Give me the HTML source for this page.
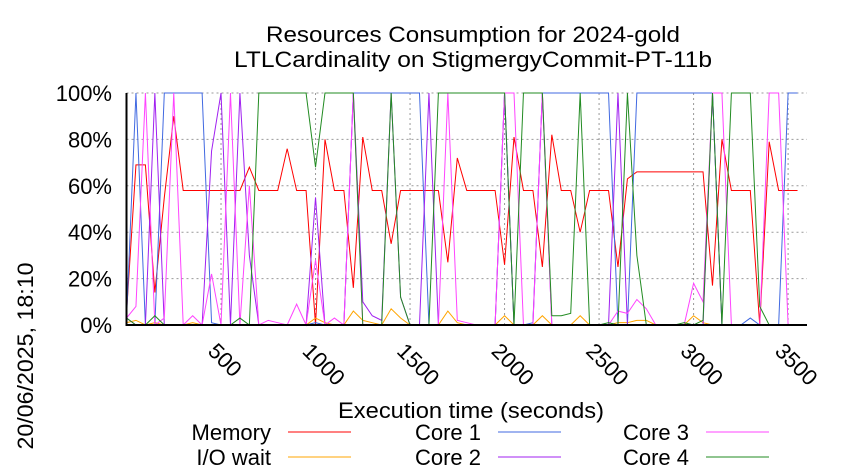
<!DOCTYPE html>
<html><head><meta charset="utf-8"><style>
body{margin:0;background:#fff}
svg{display:block;font-family:"Liberation Sans",sans-serif}
</style></head><body>
<svg id="chart" width="850" height="475" viewBox="0 0 850 475" xmlns="http://www.w3.org/2000/svg">
<text x="473" y="42" font-size="22" text-anchor="middle" textLength="414" lengthAdjust="spacingAndGlyphs">Resources Consumption for 2024-gold</text>
<text x="473" y="67" font-size="22" text-anchor="middle" textLength="478" lengthAdjust="spacingAndGlyphs">LTLCardinality on StigmergyCommit-PT-11b</text>
<g id="grid"></g>
<g id="series"></g>
<g id="axes"></g>
<text x="471" y="418" font-size="22" text-anchor="middle" textLength="266" lengthAdjust="spacingAndGlyphs">Execution time (seconds)</text>
<text transform="translate(33,356) rotate(-90)" font-size="22" text-anchor="middle" textLength="187" lengthAdjust="spacingAndGlyphs">20/06/2025, 18:10</text>
<g id="legend"></g>
</svg>
<script>
const times = Array.from({length:72},(_,i)=>i*50);
const memory = [5,69,69,14,55,90,58,58,58,58, 58,58,58,68,58,58,58,76,58,58, 0,80,58,58,16,81,58,58,35,58, 58,58,58,58,27,72,58,58,58,58, 26,81,58,58,25,82,58,58,40,58, 58,58,25,63,66,66,66,66,66,66, 66,66,17,80,58,58,58,0,79,58, 58,58];
const ioWait = [1,2,0,1,0,0,0,1,0,0, 0,0,0,0,0,0,0,0,0,0, 3,1,0,0,6,2,1,0,7,3, 0,0,0,0,6,1,0,0,0,0, 4,0,0,0,4,0,0,0,4,0, 0,0,1,1,2,2,0,0,0,0, 4,1,0,0,0,0,0,0,0,0, 0,0];
const core1 = [2,100,0,0,100,100,100,100,100,1, 0,0,0,0,0,0,0,0,0,0, 1,0,0,0,100,100,100,100,100,100, 100,100,0,0,0,0,0,0,0,0, 100,0,0,1,100,100,100,100,100,100, 100,100,0,0,100,100,100,100,100,100, 100,100,100,0,0,0,3,0,0,0, 100,100];
const core2 = [3,0,0,100,0,0,0,0,0,75, 100,0,100,30,0,0,0,0,0,0, 55,0,0,0,100,10,4,2,100,12, 0,0,100,0,0,0,0,0,0,0, 100,0,0,0,100,0,0,0,0,0, 0,0,100,0,0,0,0,0,0,0, 0,0,100,0,0,0,0,0,0,0, 0,0];
const core3 = [3,8,100,0,3,100,0,4,0,22, 0,100,0,60,0,2,1,0,9,0, 28,0,3,0,100,0,0,0,0,0, 0,0,0,0,100,2,1,0,0,0, 100,100,0,0,100,0,0,0,0,0, 0,0,6,5,11,7,0,0,0,0, 18,10,100,100,0,0,0,0,100,100, 0,0];
const core4 = [3,0,0,4,0,0,0,0,0,0, 0,0,3,0,100,100,100,100,100,100, 68,100,100,100,100,0,0,0,100,12, 0,0,0,100,100,100,100,100,100,100, 100,0,100,100,100,4,4,5,100,0, 0,1,0,100,30,0,0,0,0,1, 0,2,100,0,100,100,100,8,0,0, 0,0];
const xTicks = [500,1000,1500,2000,2500,3000,3500];
const yTicks = [0,20,40,60,80,100];

const NS="http://www.w3.org/2000/svg";
const X0=126.5, X1=807, Y0=325, Y1=93, XMAX=3600;
const xs=t=>X0+(t/XMAX)*(X1-X0);
const ys=v=>Y0-(v/100)*(Y0-Y1);
function mk(tag,attrs,parent){const e=document.createElementNS(NS,tag);for(const k in attrs)e.setAttribute(k,attrs[k]);parent.appendChild(e);return e;}
const grid=document.getElementById('grid'), axes=document.getElementById('axes'), ser=document.getElementById('series'), leg=document.getElementById('legend');
yTicks.forEach(v=>{
  const l=mk('line',{x1:X0,x2:X1,y1:ys(v),y2:ys(v),stroke:'#999','stroke-width':1,'stroke-dasharray':'2,3'},grid);
  
  
  const t=mk('text',{x:112,y:ys(v)+8,'font-size':22,'text-anchor':'end'},axes);
  
  
  t.textContent=v+'%';
});
xTicks.forEach(v=>{
  const l=mk('line',{x1:xs(v),x2:xs(v),y1:Y0,y2:Y1,stroke:'#999','stroke-width':1,'stroke-dasharray':'2,3'},grid);
  
  
  const t=mk('text',{transform:`translate(${xs(v)-3},341) rotate(45)`,'font-size':22,'text-anchor':'start','dominant-baseline':'hanging'},axes);
  
  
  t.textContent=v;
});
const ax=mk('path',{d:`M${X0},${Y1} V${Y0} H${X1}`,fill:'none',stroke:'#000','stroke-width':2},axes);


const seriesList=[
 ['memory',memory,'#ff0000'],['io-wait',ioWait,'#ffa500'],['core-1',core1,'#4169e1'],
 ['core-2',core2,'#a020f0'],['core-3',core3,'#ff44ff'],['core-4',core4,'#228b22']];
seriesList.forEach(([n,arr,c])=>{
  const p=mk('polyline',{points:arr.map((v,i)=>xs(times[i])+','+ys(v)).join(' '),fill:'none',stroke:c,'stroke-width':1},ser);
  
  
});
const legendItems=[['Memory','#ff0000',271,432],['I/O wait','#ffa500',271,457],['Core 1','#4169e1',481,432],['Core 2','#a020f0',481,457],['Core 3','#ff44ff',689,432],['Core 4','#228b22',689,457]];
legendItems.forEach(([lab,c,x,y])=>{
  const t=mk('text',{x:x,y:y+8,'font-size':22,'text-anchor':'end'},leg);
  
  
  t.textContent=lab;
  const l=mk('line',{x1:x+17,x2:x+80,y1:y,y2:y,stroke:c,'stroke-width':1},leg);
  
  
});
</script>
</body></html>
